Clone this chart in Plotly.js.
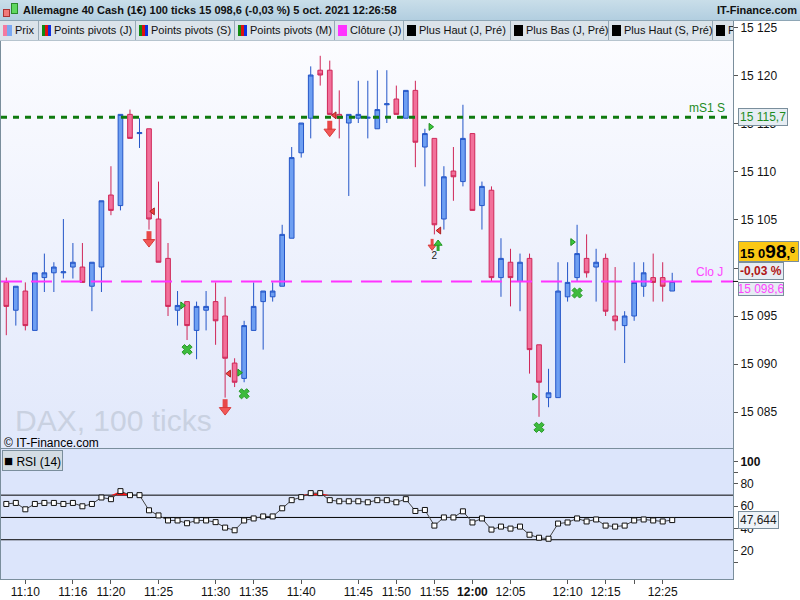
<!DOCTYPE html>
<html>
<head>
<meta charset="utf-8">
<script src="https://cdn.plot.ly/plotly-3.0.1.min.js"></script>
<style>
body { margin: 0; background: #fff; font-family: Arial, "Liberation Sans", sans-serif; }
#wrap { position: relative; width: 800px; height: 600px; overflow: hidden; background: #fff; }
#bgMain { position: absolute; left: 1px; top: 20px; width: 732px; height: 429px; background: linear-gradient(#fdfdff, #e1e8fb); }
#bgRsi { position: absolute; left: 1px; top: 449px; width: 732px; height: 130px; background: #dce5fb; }
#chart { position: absolute; left: 0; top: 0; width: 800px; height: 600px; }
#titlebar { position: absolute; left: 0; top: 0; width: 800px; height: 20px; background: linear-gradient(#c9dee9, #b2cee0); border-bottom: 1px solid #8ea6b5; font: bold 11px Arial, "Liberation Sans", sans-serif; color: #111; }
#titlebar .t { position: absolute; left: 23px; top: 4px; white-space: nowrap; }
#titlebar .site { position: absolute; right: 3px; top: 4px; }
#titlebar .ic1 { position: absolute; left: 3px; top: 9px; width: 5px; height: 6px; background: #f07a7a; border: 1px solid #a33; }
#titlebar .ic2 { position: absolute; left: 11px; top: 3px; width: 5px; height: 9px; background: #5fd85f; border: 1px solid #2a8a2a; }
#legbar { position: absolute; left: 0; top: 21px; width: 733px; height: 19px; background: #dbe3ea; overflow: hidden; border-bottom: 1px solid #b6c4ce; font: 11px Arial, "Liberation Sans", sans-serif; color: #111; }
#legbar .it { position: absolute; top: 0; height: 19px; border-right: 1px solid #97a9b6; white-space: nowrap; }
#legbar .it span.txt { position: absolute; left: 15px; top: 3px; }
#legbar .ico { position: absolute; left: 3px; top: 4px; width: 9px; height: 11px; }
</style>
</head>
<body>
<div id="wrap">
  <div id="bgMain"></div>
  <div id="bgRsi"></div>
  <div id="chart"></div>
  <div id="titlebar">
    <div class="ic1"></div><div class="ic2"></div>
    <div class="t">Allemagne 40 Cash (1€) 100 ticks 15 098,6 (-0,03 %) 5 oct. 2021 12:26:58</div>
    <div class="site">IT-Finance.com</div>
  </div>
  <div id="legbar"></div>
</div>
<script>
/* 100-tick candles, x = candle number */
var opens  = [15098.5,15095.6,15097.6,15093.5,15099.0,15099.5,15099.5,15100.1,15100.1,15098.1,
              15100.1,15107.6,15106.5,15116.0,15114.0,15114.5,15105.1,15101.0,15095.6,15096.5,
              15093.5,15095.6,15096.5,15095.0,15090.1,15088.5,15093.5,15096.5,15097.0,15098.1,
              15103.1,15112.0,15115.6,15120.6,15120.6,15116.0,15115.1,15115.6,15115.6,15114.5,
              15117.0,15117.6,15115.6,15118.5,15112.6,15113.5,15105.1,15110.1,15109.0,15114.0,
              15106.5,15108.1,15099.0,15100.6,15098.6,15101.0,15092.0,15086.5,15086.5,15097.0,
              15099.0,15101.0,15100.1,15101.0,15095.0,15094.0,15095.0,15098.1,15099.0,15099.0,
              15097.6];
var highs  = [15099.0,15098.1,15098.5,15099.5,15101.5,15100.6,15105.1,15102.6,15102.6,15100.6,
              15107.0,15110.6,15116.0,15116.5,15115.6,15114.5,15109.0,15102.6,15097.6,15096.5,
              15096.5,15097.6,15098.5,15097.0,15090.6,15094.5,15098.5,15097.6,15098.5,15104.5,
              15112.6,15115.1,15121.0,15122.1,15121.6,15118.5,15116.0,15119.5,15119.5,15120.6,
              15120.6,15119.0,15118.5,15119.5,15114.5,15113.5,15110.6,15112.6,15117.0,15114.0,
              15109.0,15108.5,15103.1,15102.0,15101.5,15101.5,15092.0,15089.5,15100.6,15100.6,
              15104.5,15103.5,15102.0,15101.5,15100.1,15095.5,15100.6,15100.6,15101.5,15100.6,
              15099.5];
var lows   = [15093.0,15094.0,15093.5,15093.5,15097.5,15097.5,15098.9,15098.9,15098.5,15095.5,
              15097.5,15105.5,15106.0,15113.5,15112.5,15104.0,15100.6,15095.0,15094.0,15092.5,
              15090.5,15093.5,15092.0,15086.5,15087.6,15088.1,15093.5,15091.5,15096.5,15098.1,
              15103.1,15111.5,15113.5,15119.0,15116.0,15113.5,15107.5,15115.1,15113.5,15114.5,
              15115.1,15116.0,15115.6,15110.5,15108.5,15103.5,15104.0,15107.0,15108.5,15106.0,
              15104.0,15098.6,15097.0,15096.0,15095.5,15089.0,15084.5,15085.5,15086.5,15096.5,
              15098.6,15099.0,15096.5,15095.0,15093.5,15090.1,15094.5,15097.0,15096.5,15096.5,
              15097.6];
var closes = [15096.0,15098.1,15094.0,15099.5,15099.5,15100.1,15099.6,15100.6,15098.5,15100.6,
              15107.0,15106.0,15116.0,15113.5,15114.1,15105.1,15100.6,15096.0,15096.1,15094.0,
              15096.0,15096.0,15094.5,15090.6,15088.1,15094.0,15096.0,15097.6,15097.6,15103.5,
              15111.5,15115.1,15120.1,15120.1,15116.0,15115.6,15116.0,15116.0,15115.7,15116.5,
              15117.1,15116.0,15118.5,15113.1,15114.0,15104.5,15109.5,15109.5,15113.5,15106.0,
              15108.5,15099.0,15101.0,15099.0,15100.6,15091.5,15088.1,15087.0,15097.6,15098.5,
              15101.5,15099.5,15100.6,15095.5,15094.5,15095.0,15098.5,15099.5,15098.5,15098.1,
              15098.6];

var rsi14 = [62.1,63.0,57.3,62.1,63.0,63.0,62.1,63.0,60.0,62.1,
             67.9,66.4,73.6,70.0,70.0,56.4,51.8,47.3,47.3,44.8,
             47.3,47.3,45.8,40.9,38.5,47.3,49.1,50.9,50.9,58.2,
             65.5,68.2,71.8,71.8,65.5,64.5,64.5,64.5,63.6,65.5,
             65.5,63.6,66.4,55.8,56.7,42.7,50.0,50.0,55.5,45.5,
             49.1,39.1,41.8,40.0,41.8,34.5,31.8,30.9,44.5,45.5,
             49.1,46.4,48.2,42.7,41.8,42.7,47.3,48.2,47.3,46.4,
             47.644];

var tickIdx    = [2, 7, 11, 16, 22, 26, 31, 37, 41, 45, 49, 53, 59, 63, 66, 69];
var tickLabels = ['11:10','11:16','11:20','11:25','11:30','11:35','11:40','11:45','11:50',
                  '11:55','<b>12:00</b>','12:05','12:10','12:15',' ','12:25'];

var cloJ = 15098.6;      // Clôture (J)
var mS1 = 15115.7;       // pivot mS1 S
var lastPrice = 15098.6;
var dayChange = '-0,03 %';
var rsiLevels = [30, 50, 70];

// signals drawn on the price panel
var sellArrowX = [15, 23, 34],        sellArrowY = [15102.7, 15085.2, 15114.2];
var smallSellX = [44.76],             smallSellY = [15102.2];
var smallBuyX  = [45.39],             smallBuyY  = [15102.55];
var countX = [45.0], countY = [15101.2], countTxt = ['2'];
var crossX = [19, 25, 56, 60],        crossY = [15091.5, 15086.9, 15083.4, 15097.4];
var redTriX = [15.4, 23.4, 34.5, 45.5],   redTriY = [15105.9, 15089.0, 15115.9, 15103.9];
var greenTriX = [18.5, 24.5, 44.6, 55.5, 59.5], greenTriY = [15096.1, 15089.1, 15114.7, 15086.6, 15102.7];

var legendItems = [
  ['Prix', 0, 38, 'prix'], ['Points pivots (J)', 39, 96, 'pp'], ['Points pivots (S)', 136, 98, 'pp'],
  ['Points pivots (M)', 235, 99, 'pp'], ['Clôture (J)', 335, 68, 'clo'], ['Plus Haut (J, Pré)', 404, 106, 'blk'],
  ['Plus Bas (J, Pré)', 511, 97, 'blk'], ['Plus Haut (S, Pré)', 609, 103, 'blk'], ['Plus Bas (S, Pré)', 713, 100, 'blk']
];

/* legend bar */
var lb = document.getElementById('legbar');
legendItems.forEach(function (it) {
  var d = document.createElement('div');
  d.className = 'it';
  d.style.left = it[1] + 'px';
  d.style.width = it[2] + 'px';
  var ico;
  if (it[3] == 'prix') ico = 'linear-gradient(90deg,#f47aa0 50%,#7aa8f2 50%)';
  else if (it[3] == 'pp') ico = 'linear-gradient(90deg,#128a12 33%,#e01010 33%,#e01010 66%,#1030e0 66%)';
  else if (it[3] == 'clo') ico = '#ff33ff';
  else ico = '#000';
  d.innerHTML = '<div class="ico" style="background:' + ico + '"></div><span class="txt">' + it[0] + '</span>';
  lb.appendChild(d);
});

var idx = opens.map(function (v, i) { return i; });
var pxPerPt = 9.6;   // price panel: pixels per index point

var candles = {
  type: 'candlestick', x: idx, open: opens, high: highs, low: lows, close: closes,
  xaxis: 'x', yaxis: 'y',
  increasing: { line: { color: '#2456c8', width: 1 }, fillcolor: '#6e9ff2' },
  decreasing: { line: { color: '#cf2758', width: 1 }, fillcolor: '#f2709a' },
  hoverinfo: 'skip'
};

function shifted(arr, px) { return arr.map(function (v) { return v + px / pxPerPt; }); }

var sellShaft = { type: 'scatter', mode: 'markers', x: sellArrowX, y: shifted(sellArrowY, 6),
  marker: { symbol: 'line-ns', size: 7, line: { color: '#e84848', width: 5 } }, hoverinfo: 'skip' };
var sellHead = { type: 'scatter', mode: 'markers', x: sellArrowX, y: sellArrowY,
  marker: { symbol: 'triangle-down', size: 10, color: '#f25858', line: { color: '#d83a3a', width: 1 } }, hoverinfo: 'skip' };
var smallSellShaft = { type: 'scatter', mode: 'markers', x: smallSellX, y: shifted(smallSellY, 4.5),
  marker: { symbol: 'line-ns', size: 5, line: { color: '#e84848', width: 3 } }, hoverinfo: 'skip' };
var smallSellHead = { type: 'scatter', mode: 'markers', x: smallSellX, y: smallSellY,
  marker: { symbol: 'triangle-down', size: 7, color: '#f25858', line: { color: '#d83a3a', width: 1 } }, hoverinfo: 'skip' };
var smallBuyShaft = { type: 'scatter', mode: 'markers', x: smallBuyX, y: shifted(smallBuyY, -4),
  marker: { symbol: 'line-ns', size: 5, line: { color: '#2fa82f', width: 3 } }, hoverinfo: 'skip' };
var smallBuyHead = { type: 'scatter', mode: 'markers', x: smallBuyX, y: smallBuyY,
  marker: { symbol: 'triangle-up', size: 7, color: '#3cc43c', line: { color: '#259a25', width: 1 } }, hoverinfo: 'skip' };
var countText = { type: 'scatter', mode: 'text', x: countX, y: countY, text: countTxt,
  textfont: { size: 10, color: '#222' }, hoverinfo: 'skip' };
var crosses = { type: 'scatter', mode: 'markers', x: crossX, y: crossY,
  marker: { symbol: 'x', size: 9, color: '#3dbb3d', line: { color: '#2a9a2a', width: 1 } }, hoverinfo: 'skip' };
var redTri = { type: 'scatter', mode: 'markers', x: redTriX, y: redTriY,
  marker: { symbol: 'triangle-left', size: 6, color: '#ee4444', line: { color: '#a82020', width: 1 } }, hoverinfo: 'skip' };
var greenTri = { type: 'scatter', mode: 'markers', x: greenTriX, y: greenTriY,
  marker: { symbol: 'triangle-right', size: 6, color: '#3ccc3c', line: { color: '#1f8a1f', width: 1 } }, hoverinfo: 'skip' };

/* RSI panel: red fill where above 70 */
var rsiBase = { type: 'scatter', mode: 'lines', x: idx, y: idx.map(function () { return 70; }),
  xaxis: 'x', yaxis: 'y2', line: { width: 0 }, hoverinfo: 'skip' };
var rsiOver = { type: 'scatter', mode: 'lines', x: idx, y: rsi14.map(function (v) { return Math.max(v, 70); }),
  xaxis: 'x', yaxis: 'y2', line: { width: 0 }, fill: 'tonexty', fillcolor: '#ff1010', hoverinfo: 'skip' };
var rsiLine = { type: 'scatter', mode: 'lines+markers', x: idx, y: rsi14, xaxis: 'x', yaxis: 'y2',
  line: { color: '#444', width: 1 },
  marker: { symbol: 'square', size: 5, color: '#fff', line: { color: '#111', width: 1 } }, hoverinfo: 'skip' };

var shapes = [
  { type: 'line', xref: 'paper', x0: 0, x1: 1, yref: 'y', y0: mS1, y1: mS1,
    line: { color: '#0f7a0f', width: 3, dash: '6px,6px' } },
  { type: 'line', xref: 'paper', x0: 0, x1: 1, yref: 'y', y0: cloJ, y1: cloJ,
    line: { color: '#ff33ff', width: 2, dash: '21px,9px' } },
  { type: 'line', xref: 'paper', x0: 1, x1: 1.007, yref: 'y', y0: lastPrice, y1: lastPrice,
    line: { color: '#111', width: 1 } }
];
rsiLevels.forEach(function (lv) {
  shapes.push({ type: 'line', xref: 'paper', x0: 0, x1: 1, yref: 'y2', y0: lv, y1: lv,
    line: { color: '#000', width: 1 }, layer: 'below' });
});

var boxBg = '#e6edf3', boxLine = '#7a8e9c';
function pY(px) { return (579 - px) / 559; }   // paper y from page pixel

var annotations = [
  { xref: 'paper', x: 1, xanchor: 'right', xshift: -6, yref: 'y', y: mS1, yanchor: 'bottom', yshift: 0,
    text: 'mS1 S', showarrow: false, font: { size: 12, color: '#1e8c1e' } },
  { xref: 'paper', x: 1, xanchor: 'left', xshift: 5, yref: 'y', y: mS1, yanchor: 'middle',
    text: '15 115,7', showarrow: false, font: { size: 12, color: '#1e8c1e' },
    bgcolor: boxBg, bordercolor: boxLine, borderwidth: 1, borderpad: 1 },
  { xref: 'paper', x: 1, xanchor: 'right', xshift: -8, yref: 'y', y: cloJ, yanchor: 'bottom', yshift: 0,
    text: 'Clo J', showarrow: false, font: { size: 12, color: '#ff44ff' } },
  { xref: 'paper', x: 1, xanchor: 'left', xshift: 5, yref: 'y', y: lastPrice, yanchor: 'bottom', yshift: 19,
    width: 57, height: 17, align: 'left',
    text: '<b>15 0<span style="font-size:19px">98</span>,<sup>6</sup></b>', showarrow: false,
    font: { size: 13, color: '#000' }, bgcolor: '#fbc814', bordercolor: boxLine, borderwidth: 1, borderpad: 1 },
  { xref: 'paper', x: 1, xanchor: 'left', xshift: 5, yref: 'y', y: lastPrice, yanchor: 'bottom', yshift: 1,
    text: '<b>' + dayChange + '</b>', showarrow: false,
    font: { size: 12, color: '#b01515' }, bgcolor: boxBg, bordercolor: boxLine, borderwidth: 1, borderpad: 1 },
  { xref: 'paper', x: 1, xanchor: 'left', xshift: 5, yref: 'y', y: lastPrice, yanchor: 'top', yshift: -1,
    width: 44, height: 12, text: '15 098,6', showarrow: false,
    font: { size: 12, color: '#ff44ff' }, bgcolor: boxBg, bordercolor: boxLine, borderwidth: 1, borderpad: 0 },
  { xref: 'paper', x: 1, xanchor: 'left', xshift: 5, yref: 'y2', y: rsi14[rsi14.length - 1], yanchor: 'middle',
    text: '47,644', showarrow: false, font: { size: 12, color: '#222' },
    bgcolor: '#eef3f8', bordercolor: boxLine, borderwidth: 1, borderpad: 1 },
  { xref: 'paper', x: 0.016, xanchor: 'left', yref: 'paper', y: pY(421), yanchor: 'middle',
    text: 'DAX, 100 ticks', showarrow: false, font: { size: 30, color: '#c9d1e1' } },
  { xref: 'paper', x: 0.001, xanchor: 'left', yref: 'paper', y: pY(443), yanchor: 'middle',
    text: '© IT-Finance.com', showarrow: false, font: { size: 12, color: '#000' } },
  { xref: 'paper', x: 0.002, xanchor: 'left', yref: 'paper', y: pY(450), yanchor: 'top',
    text: '<span style="font-size:15px">■</span> RSI (14)', showarrow: false, font: { size: 12, color: '#000' },
    bgcolor: '#d3dce3', bordercolor: boxLine, borderwidth: 1, borderpad: 1 }
];

var layout = {
  width: 800, height: 600,
  margin: { l: 1, r: 67, t: 20, b: 21, pad: 0 },
  paper_bgcolor: 'rgba(0,0,0,0)', plot_bgcolor: 'rgba(0,0,0,0)',
  separators: ', ',
  showlegend: false,
  font: { family: 'Arial, "Liberation Sans", sans-serif', size: 12, color: '#111' },
  xaxis: {
    domain: [0, 1], anchor: 'y2', range: [-0.558, 76.39],
    tickvals: tickIdx, ticktext: tickLabels, ticks: 'outside', ticklen: 4, tickcolor: '#555',
    ticklabelstandoff: -2,
    showline: true, linecolor: '#7a8e9c', mirror: true, showgrid: false, zeroline: false,
    rangeslider: { visible: false }, tickfont: { size: 12, color: '#111' }
  },
  yaxis: {
    domain: [0.2326, 1], anchor: 'x', side: 'right', range: [15081.15, 15125.83],
    tick0: 15085, dtick: 5, tickformat: ',.0f', ticks: 'outside', ticklen: 4, tickcolor: '#555',
    showline: true, linecolor: '#7a8e9c', mirror: true, showgrid: false, zeroline: false,
    tickfont: { size: 12, color: '#111' }
  },
  yaxis2: {
    domain: [0, 0.2326], anchor: 'x', side: 'right', range: [-5.2, 111.4],
    tickvals: [100, 90, 80, 60, 40, 20, 10], ticktext: ['<b>100</b>', ' ', '80', '60', '40', '20', ' '],
    ticks: 'outside', ticklen: 4, tickcolor: '#555',
    showline: true, linecolor: '#7a8e9c', mirror: true, showgrid: false, zeroline: false,
    tickfont: { size: 12, color: '#111' }
  },
  shapes: shapes,
  annotations: annotations
};

var data = [rsiBase, rsiOver, rsiLine, candles, crosses, redTri, greenTri,
            sellShaft, sellHead, smallSellShaft, smallSellHead, smallBuyShaft, smallBuyHead, countText];

Plotly.newPlot('chart', data, layout, { staticPlot: true });
</script>
</body>
</html>
